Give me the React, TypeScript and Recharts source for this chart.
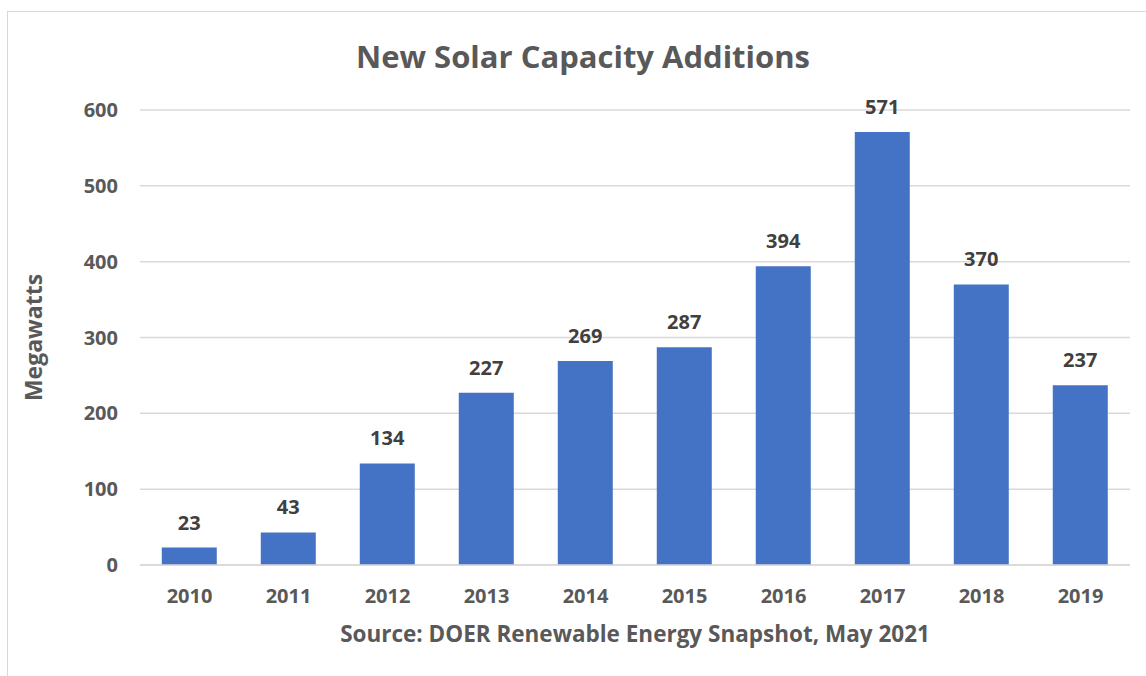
import { BarChart, Bar, XAxis, YAxis, CartesianGrid, LabelList } from 'recharts';

const years = ['2010', '2011', '2012', '2013', '2014', '2015', '2016', '2017', '2018', '2019'];
const megawatts = [23, 43, 134, 227, 269, 287, 394, 571, 370, 237];
const yTicks = [0, 100, 200, 300, 400, 500, 600];

const data = years.map((year, i) => ({ year, mw: megawatts[i] }));

const FONT = '"Open Sans", sans-serif';
const GREY = '#595959';

const YLabel = ({ viewBox }: any) => {
  const x = viewBox.x + 25;
  const y = viewBox.y + viewBox.height / 2;
  return (
    <text
      x={x}
      y={y}
      transform={`rotate(-90, ${x}, ${y})`}
      textAnchor="middle"
      dominantBaseline="central"
      fill={GREY}
      fontFamily={FONT}
      fontWeight={700}
      fontSize={23}
    >
      Megawatts
    </text>
  );
};

export default function App() {
  return (
    <div
      style={{
        position: 'fixed',
        left: 7,
        top: 11,
        width: 1160,
        height: 690,
        border: '1px solid #d9d9d9',
        background: '#fff',
      }}
    >
      <div
        style={{
          position: 'absolute',
          top: 23,
          left: 0,
          width: 1150,
          textAlign: 'center',
          fontFamily: FONT,
          fontWeight: 700,
          fontSize: 31,
          color: GREY,
        }}
      >
        New Solar Capacity Additions
      </div>
      <BarChart
        width={1140}
        height={664}
        data={data}
        margin={{ top: 98, right: 18, left: 0, bottom: 31 }}
        barCategoryGap="22%"
      >
        <CartesianGrid vertical={false} stroke="#d9d9d9" strokeWidth={1.5} />
        <XAxis
          dataKey="year"
          height={80}
          tickLine={false}
          axisLine={{ stroke: '#d9d9d9', strokeWidth: 1.5 }}
          tickMargin={18}
          tick={{ fill: GREY, fontFamily: FONT, fontWeight: 700, fontSize: 20 }}
          label={{
            value: 'Source: DOER Renewable Energy Snapshot, May 2021',
            position: 'insideBottom',
            offset: 3,
            fill: GREY,
            fontFamily: FONT,
            fontWeight: 700,
            fontSize: 22.5,
          }}
        />
        <YAxis
          width={132}
          domain={[0, 600]}
          ticks={yTicks}
          tickLine={false}
          axisLine={false}
          tickMargin={16}
          tick={{ fill: GREY, fontFamily: FONT, fontWeight: 700, fontSize: 20 }}
          label={<YLabel />}
        />
        <Bar dataKey="mw" fill="#4472C4" isAnimationActive={false}>
          <LabelList
            dataKey="mw"
            position="top"
            offset={18}
            fill="#404040"
            fontFamily={FONT}
            fontWeight={700}
            fontSize={20}
          />
        </Bar>
      </BarChart>
    </div>
  );
}
